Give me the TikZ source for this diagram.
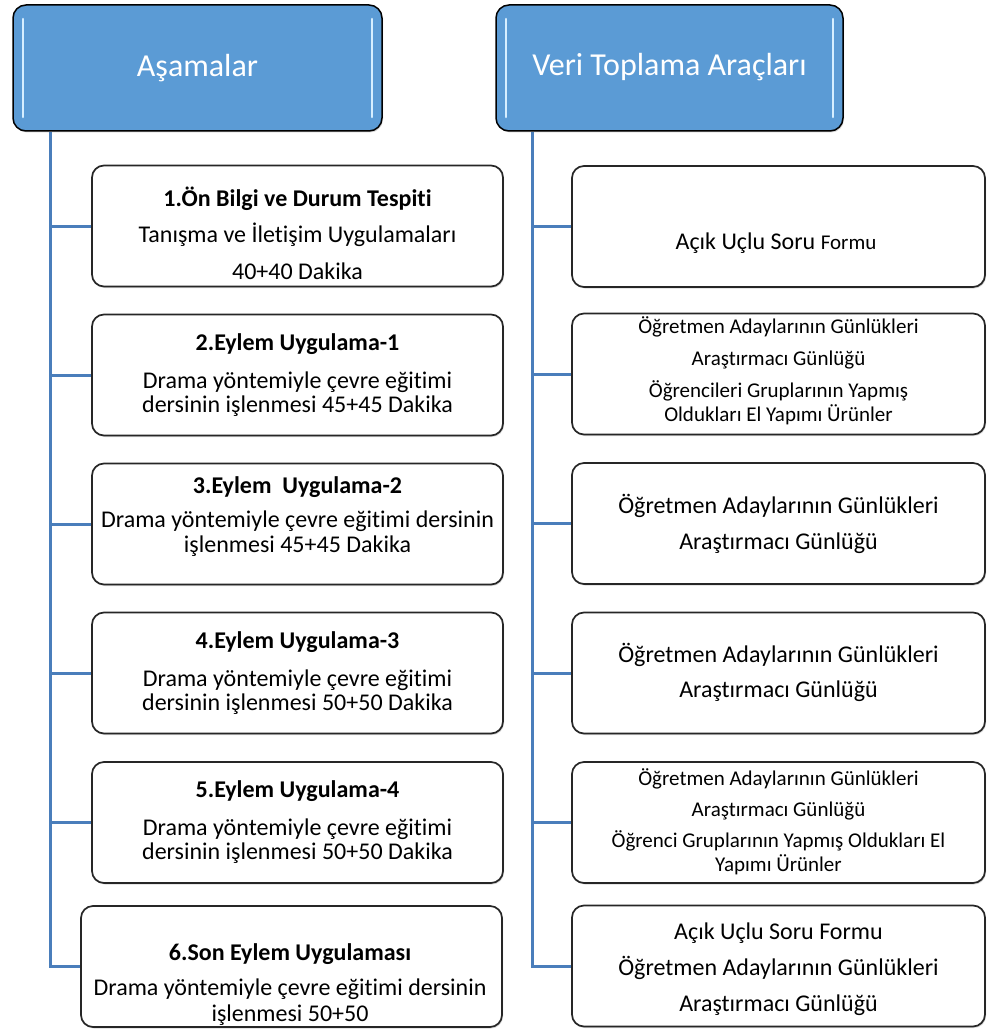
\documentclass[tikz,border=0pt]{standalone}
\usepackage{fontspec}
\setmainfont{Carlito}[Ligatures=NoCommon]
\usetikzlibrary{shadows}
\definecolor{hdrblue}{RGB}{91,155,213}
\definecolor{hdrglow}{RGB}{214,238,255}
\definecolor{linkblue}{RGB}{74,126,187}
\tikzset{
  conn/.style={draw=linkblue, line width=3pt},
  hdrbox/.style={draw=black, line width=1.5pt, rounded corners=13pt, fill=hdrblue,
    minimum height=126pt, inner sep=0pt, drop shadow={shadow xshift=1pt, shadow yshift=-1.5pt, opacity=0.35}},
  glow/.style={draw=hdrglow, line width=2.6pt, line cap=round},
  hdrtext/.style={font=\fontsize{32}{38}\selectfont, text=white, anchor=base, inner sep=0pt},
  stagebox/.style={draw=black!85, line width=1.7pt, rounded corners=12pt, fill=white,
    minimum height=121pt, inner sep=0pt, drop shadow={shadow xshift=1pt, shadow yshift=-1.5pt, opacity=0.3}},
  body/.style={font=\fontsize{24}{29}\selectfont, anchor=base, inner sep=0pt},
  small/.style={font=\fontsize{21}{25}\selectfont, anchor=base, inner sep=0pt},
}
\begin{document}
\begin{tikzpicture}[x=1pt, y=-1pt]
\useasboundingbox (0,0) rectangle (987,1030);

% headers
\node[hdrbox, minimum width=369pt] (hL) at (197.5,68) {};
\node[hdrbox, minimum width=347pt] (hR) at (669.5,68) {};
\coordinate (gL1a) at (23,19); \coordinate (gL1b) at (23,117);
\coordinate (gL2a) at (372,19); \coordinate (gL2b) at (372,117);
\coordinate (gR1a) at (506,19); \coordinate (gR1b) at (506,117);
\coordinate (gR2a) at (833,19); \coordinate (gR2b) at (833,117);
\draw[glow] (gL1a) -- (gL1b);
\draw[glow] (gL2a) -- (gL2b);
\draw[glow] (gR1a) -- (gR1b);
\draw[glow] (gR2a) -- (gR2b);
\node[hdrtext] (tL) at (197.5,77) {Aşamalar};
\node[hdrtext] (tR) at (669.5,76) {Veri Toplama Araçları};

% trunk ends
\coordinate (lb) at (50,967);
\coordinate (rb) at (532,967);

% left boxes
\node[stagebox, minimum width=411pt] (L1) at (297.5,226) {};
\node[stagebox, minimum width=411pt] (L2) at (297.5,375) {};
\node[stagebox, minimum width=411pt] (L3) at (297.5,524) {};
\node[stagebox, minimum width=411pt] (L4) at (297.5,673) {};
\node[stagebox, minimum width=411pt] (L5) at (297.5,822.5) {};
\node[stagebox, minimum width=421pt] (L6) at (291.5,966.5) {};

% right boxes
\node[stagebox, minimum width=413pt] (R1) at (778.5,226.5) {};
\node[stagebox, minimum width=413pt] (R2) at (778.5,374) {};
\node[stagebox, minimum width=413pt] (R3) at (778.5,523.5) {};
\node[stagebox, minimum width=413pt] (R4) at (778.5,673) {};
\node[stagebox, minimum width=413pt] (R5) at (778.5,822.5) {};
\node[stagebox, minimum width=413pt] (R6) at (778.5,966) {};

% connectors
\draw[conn] (hL.south -| lb) |- (L6.west);
\foreach \b in {L1,L2,L3,L4,L5} \draw[conn] (\b.west -| lb) -- (\b.west);
\draw[conn] (hR.south -| rb) |- (R6.west);
\foreach \b in {R1,R2,R3,R4,R5} \draw[conn] (\b.west -| rb) -- (\b.west);

% left texts
\node[body] (L1a) at (297.5,206) {\bfseries 1.Ön Bilgi ve Durum Tespiti};
\node[body] (L1b) at (297.5,242) {Tanışma ve İletişim Uygulamaları};
\node[body] (L1c) at (297.5,279) {40+40 Dakika};

\node[body] (L2a) at (297.5,350) {\bfseries 2.Eylem Uygulama-1};
\node[body] (L2b) at (297.5,388) {Drama yöntemiyle çevre eğitimi};
\node[body] (L2c) at (297.5,412) {dersinin işlenmesi 45+45 Dakika};

\node[body] (L3a) at (297.5,493) {\bfseries 3.Eylem\ \ Uygulama-2};
\node[body] (L3b) at (297.5,527) {Drama yöntemiyle çevre eğitimi dersinin};
\node[body] (L3c) at (297.5,552) {işlenmesi 45+45 Dakika};

\node[body] (L4a) at (297.5,648) {\bfseries 4.Eylem Uygulama-3};
\node[body] (L4b) at (297.5,686) {Drama yöntemiyle çevre eğitimi};
\node[body] (L4c) at (297.5,710) {dersinin işlenmesi 50+50 Dakika};

\node[body] (L5a) at (297.5,797) {\bfseries 5.Eylem Uygulama-4};
\node[body] (L5b) at (297.5,835) {Drama yöntemiyle çevre eğitimi};
\node[body] (L5c) at (297.5,859) {dersinin işlenmesi 50+50 Dakika};

\node[body] (L6a) at (290,960) {\bfseries 6.Son Eylem Uygulaması};
\node[body] (L6b) at (290,995) {Drama yöntemiyle çevre eğitimi dersinin};
\node[body] (L6c) at (290,1021) {işlenmesi 50+50};

% right texts
\node[body] (R1a) at (776,249) {Açık Uçlu Soru {\fontsize{21}{25}\selectfont Formu}};

\node[small] (R2a) at (778.5,333) {Öğretmen Adaylarının Günlükleri};
\node[small] (R2b) at (778.5,365) {Araştırmacı Günlüğü};
\node[small] (R2c) at (778.5,397) {Öğrencileri Gruplarının Yapmış};
\node[small] (R2d) at (778.5,421) {Oldukları El Yapımı Ürünler};

\node[body] (R3a) at (778.5,513) {Öğretmen Adaylarının Günlükleri};
\node[body] (R3b) at (778.5,549) {Araştırmacı Günlüğü};

\node[body] (R4a) at (778.5,662) {Öğretmen Adaylarının Günlükleri};
\node[body] (R4b) at (778.5,697) {Araştırmacı Günlüğü};

\node[small] (R5a) at (778.5,785) {Öğretmen Adaylarının Günlükleri};
\node[small] (R5b) at (778.5,816) {Araştırmacı Günlüğü};
\node[small] (R5c) at (778.5,847) {Öğrenci Gruplarının Yapmış Oldukları El};
\node[small] (R5d) at (778.5,871) {Yapımı Ürünler};

\node[body] (R6a) at (778.5,939) {Açık Uçlu Soru Formu};
\node[body] (R6b) at (778.5,975) {Öğretmen Adaylarının Günlükleri};
\node[body] (R6c) at (778.5,1011) {Araştırmacı Günlüğü};
\end{tikzpicture}
\end{document}
